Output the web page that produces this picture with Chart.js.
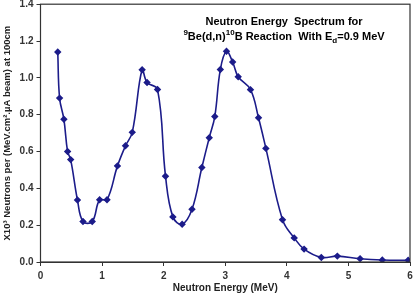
<!DOCTYPE html>
<html>
<head>
<meta charset="utf-8">
<script src="https://cdn.jsdelivr.net/npm/chart.js@4/dist/chart.umd.min.js"></script>
<style>
  html, body { margin: 0; padding: 0; background: #fff; }
  #wrap { width: 416px; height: 298px; }
</style>
</head>
<body>
<div id="wrap"><canvas id="spectrumChart"></canvas></div>
<script>
// neutron energy (MeV) and yield
const energies = [0.28, 0.31, 0.38, 0.44, 0.49, 0.60, 0.69, 0.84, 0.96, 1.08,
  1.25, 1.38, 1.49, 1.65, 1.73, 1.90, 2.03, 2.15, 2.30, 2.46, 2.62, 2.74, 2.83,
  2.92, 3.02, 3.12, 3.21, 3.41, 3.54, 3.66, 3.93, 4.12, 4.28, 4.56, 4.82, 5.19,
  5.55, 5.97];
const yields = [1.14, 0.89, 0.775, 0.60, 0.556, 0.337, 0.22, 0.22, 0.338, 0.338,
  0.522, 0.631, 0.704, 1.044, 0.975, 0.937, 0.466, 0.245, 0.205, 0.286, 0.513,
  0.675, 0.79, 1.045, 1.144, 1.086, 1.006, 0.936, 0.783, 0.617, 0.23, 0.131,
  0.07, 0.025, 0.032, 0.018, 0.011, 0.009];
const xTicks = [0, 1, 2, 3, 4, 5, 6];
const yTicks = [0, 0.2, 0.4, 0.6, 0.8, 1.0, 1.2, 1.4];

const titleLines = [
  [{ t: 'Neutron Energy  Spectrum for' }],
  [{ t: '9', m: 'sup' }, { t: 'Be(d,n)' }, { t: '10', m: 'sup' }, { t: 'B Reaction  With E' },
   { t: 'd', m: 'sub' }, { t: '=0.9 MeV' }]
];

const lineColor = '#1c1c8a';
const fontFam = '"Liberation Sans", Arial, sans-serif';

// draws the two-line title with super/subscripts inside the plot
const richTitle = {
  id: 'richTitle',
  afterDraw(chart) {
    const c = chart.ctx;
    const cx = 284;
    const ys = [21, 36];
    c.save();
    c.fillStyle = '#000';
    c.textBaseline = 'alphabetic';
    titleLines.forEach((segs, i) => {
      let w = 0;
      segs.forEach(s => {
        c.font = 'bold ' + (s.m ? 8 : 11) + 'px ' + fontFam;
        w += c.measureText(s.t).width;
      });
      let x = cx - w / 2;
      const base = ys[i] + 4;
      segs.forEach(s => {
        c.font = 'bold ' + (s.m ? 8 : 11) + 'px ' + fontFam;
        let y = base;
        if (s.m === 'sup') y = base - 5;
        if (s.m === 'sub') y = base + 3;
        c.fillText(s.t, x, y);
        x += c.measureText(s.t).width;
      });
    });
    c.restore();
  }
};

// box round the plot area
const frame = {
  id: 'frame',
  afterDatasetsDraw(chart) {
    const a = chart.chartArea, c = chart.ctx;
    c.save();
    c.strokeStyle = '#333';
    c.lineWidth = 1.2;
    c.strokeRect(a.left, a.top, a.right - a.left, a.bottom - a.top);
    c.restore();
  }
};

const pts = energies.map((e, i) => ({ x: e, y: yields[i] }));

new Chart(document.getElementById('spectrumChart'), {
  type: 'line',
  data: {
    datasets: [{
      data: pts,
      borderColor: lineColor,
      backgroundColor: lineColor,
      borderWidth: 1.6,
      tension: 0.4,
      pointStyle: 'rectRot',
      pointRadius: 2.6,
      pointHoverRadius: 2.6
    }]
  },
  options: {
    responsive: true,
    maintainAspectRatio: false,
    animation: false,
    layout: { padding: { top: 2.5, right: 6, left: 0, bottom: 0 } },
    plugins: { legend: { display: false }, tooltip: { enabled: false } },
    scales: {
      x: {
        type: 'linear',
        min: 0, max: 6,
        afterBuildTicks: s => { s.ticks = xTicks.map(v => ({ value: v })); },
        afterFit: s => { s.height = 36; s.paddingRight = 0; },
        grid: { drawOnChartArea: false, tickLength: 4, color: '#333' },
        border: { color: '#333' },
        ticks: { color: '#333', font: { family: fontFam, size: 10, weight: 'bold' }, padding: 4 },
        title: {
          display: true,
          text: 'Neutron Energy (MeV)',
          color: '#222',
          font: { family: fontFam, size: 10, weight: 'bold' },
          padding: { top: 0, bottom: 4 }
        }
      },
      y: {
        min: 0, max: 1.4,
        afterBuildTicks: s => { s.ticks = yTicks.map(v => ({ value: v })); },
        afterFit: s => { s.width = 40.5; s.paddingTop = 0; },
        grid: { drawOnChartArea: false, tickLength: 4, color: '#333' },
        border: { color: '#333' },
        ticks: {
          color: '#333',
          font: { family: fontFam, size: 10, weight: 'bold' },
          padding: 3,
          callback: v => v.toFixed(1)
        },
        title: {
          display: true,
          text: 'X10³ Neutrons per (MeV.cm².µA beam) at 100cm',
          color: '#222',
          font: { family: fontFam, size: 9.5, weight: 'bold' },
          padding: { top: 2, bottom: 2 }
        }
      }
    }
  },
  plugins: [frame, richTitle]
});
</script>
</body>
</html>
